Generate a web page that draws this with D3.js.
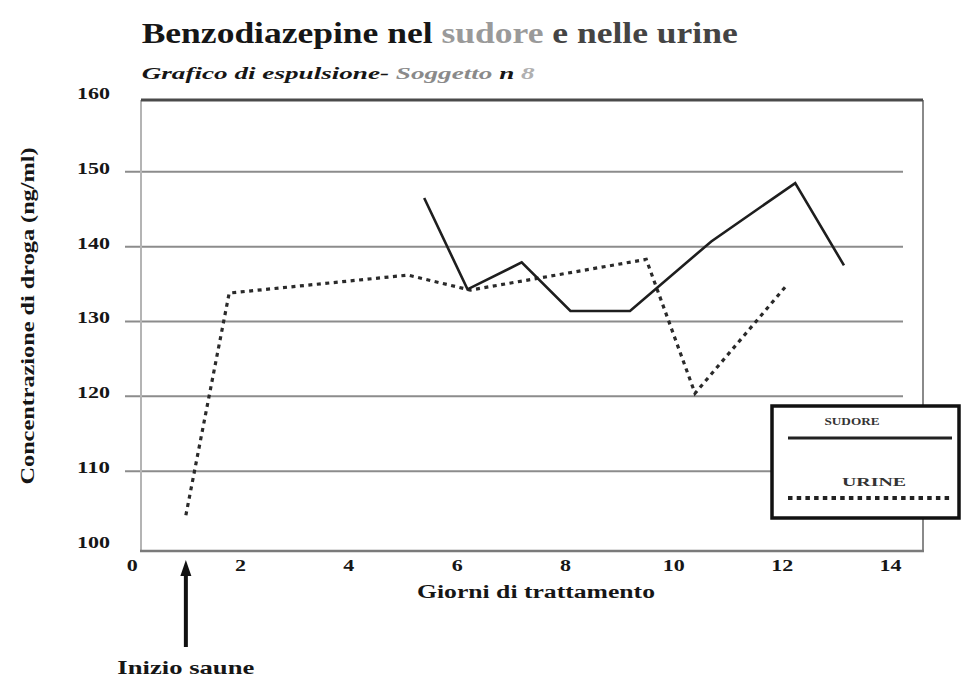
<!DOCTYPE html>
<html lang="it">

<head>
	<meta charset="UTF-8">
	<title>Benzodiazepine nel sudore e nelle urine</title>
	<style>
		body { margin: 0; background: #fff; }
		text { font-family: "Liberation Serif", "Times New Roman", serif; font-weight: bold; fill: #161616; }
	</style>
</head>

<body>

	<script src="https://d3js.org/d3.v7.min.js"></script>

	<script>

		// values
		var sudoreDays   = [5.4, 6.2, 7.2, 8.1, 9.2, 10.7, 12.25, 13.15],
		    sudoreValues = [146.5, 134.3, 137.9, 131.4, 131.4, 140.7, 148.5, 137.5];

		var urineDays   = [1.0, 1.8, 5.1, 6.25, 9.5, 10.4, 12.1],
		    urineValues = [104.1, 133.8, 136.2, 134.2, 138.3, 120.4, 134.9];

		var xTicks = [0, 2, 4, 6, 8, 10, 12, 14],
		    yTicks = [100, 110, 120, 130, 140, 150, 160],
		    gridValues = [110, 120, 130, 140, 150];

		var saunaDay = 1;

		var width = 961,
		    height = 677,
		    frameLeft = 141,
		    frameRight = 923,
		    frameBottom = 551;

		var svg = d3.select("body").append("svg")
		            .attr("width", width)
		            .attr("height", height);

		var x = d3.scaleLinear().domain([0, 14]).range([131.7, 890]),
		    y = d3.scaleLinear().domain([100, 160]).range([546, 97]),
		    frameTop = y(160) + 3;

		// stretch text horizontally like the scan
		function fit(sel, w) {
			sel.attr("textLength", w).attr("lengthAdjust", "spacingAndGlyphs");
		}

		// title
		var title = svg.append("text")
		    .attr("x", 141.7)
		    .attr("y", 43)
		    .style("font-size", "29px");
		title.append("tspan").text("Benzodiazepine nel ");
		title.append("tspan").style("fill", "#9a9a9a").text("sudore");
		title.append("tspan").style("fill", "#444").text(" e nelle urine");
		fit(title, 596);

		var sub = svg.append("text")
		    .attr("x", 141.7)
		    .attr("y", 79)
		    .style("font-size", "17px")
		    .style("font-style", "italic");
		sub.append("tspan").text("Grafico di espulsione- ");
		sub.append("tspan").style("fill", "#8a8a8a").text("Soggetto");
		sub.append("tspan").text(" n  ");
		sub.append("tspan").style("fill", "#b0b0b0").text("8");
		fit(sub, 393);

		// grid
		svg.append("g")
		    .selectAll("line")
		    .data(gridValues)
		    .join("line")
		    .attr("x1", 125)
		    .attr("x2", 903)
		    .attr("y1", function (d) { return y(d); })
		    .attr("y2", function (d) { return y(d); })
		    .attr("stroke", "#8c8c8c")
		    .attr("stroke-width", 2);

		// frame
		svg.append("line")
		    .attr("x1", frameLeft).attr("x2", frameLeft)
		    .attr("y1", frameTop).attr("y2", frameBottom)
		    .attr("stroke", "#b4b4b4").attr("stroke-width", 2);
		svg.append("line")
		    .attr("x1", frameRight).attr("x2", frameRight)
		    .attr("y1", frameTop).attr("y2", frameBottom)
		    .attr("stroke", "#8a8a8a").attr("stroke-width", 2);
		svg.append("line")
		    .attr("x1", frameLeft).attr("x2", frameRight)
		    .attr("y1", frameTop).attr("y2", frameTop)
		    .attr("stroke", "#4a4a4a").attr("stroke-width", 3);
		svg.append("line")
		    .attr("x1", frameLeft - 1).attr("x2", frameRight + 1)
		    .attr("y1", frameBottom).attr("y2", frameBottom)
		    .attr("stroke", "#7a7a7a").attr("stroke-width", 2.5);

		// axes labels only
		var xAxis = svg.append("g")
		    .attr("transform", "translate(0," + frameBottom + ")")
		    .call(d3.axisBottom(x).tickValues(xTicks).tickSize(0).tickPadding(8));
		xAxis.select(".domain").remove();
		xAxis.attr("font-family", null).attr("font-size", null);
		xAxis.selectAll("text")
		    .style("font-size", "17px")
		    .each(function (d) { fit(d3.select(this), String(d).length * 11); });

		var yAxis = svg.append("g")
		    .attr("transform", "translate(110,0)")
		    .call(d3.axisLeft(y).tickValues(yTicks).tickSize(0).tickPadding(0));
		yAxis.select(".domain").remove();
		yAxis.attr("font-family", null).attr("font-size", null);
		yAxis.selectAll("text")
		    .attr("y", -4)
		    .style("font-size", "17px")
		    .each(function (d) { fit(d3.select(this), String(d).length * 11); });

		var xTitle = svg.append("text")
		    .attr("x", 536)
		    .attr("y", 598)
		    .attr("text-anchor", "middle")
		    .style("font-size", "18px")
		    .text("Giorni di trattamento");
		fit(xTitle, 238);

		var yTitle = svg.append("text")
		    .attr("transform", "translate(34,316) rotate(-90)")
		    .attr("text-anchor", "middle")
		    .style("font-size", "18px")
		    .text("Concentrazione di droga (ng/ml)");
		fit(yTitle, 337);

		// series
		var line = d3.line()
		    .x(function (d) { return x(d[0]); })
		    .y(function (d) { return y(d[1]); });

		svg.append("path")
		    .datum(d3.zip(urineDays, urineValues))
		    .attr("d", line)
		    .attr("fill", "none")
		    .attr("stroke", "#2a2a2a")
		    .attr("stroke-width", 3.2)
		    .attr("stroke-dasharray", "4,4.5");

		svg.append("path")
		    .datum(d3.zip(sudoreDays, sudoreValues))
		    .attr("d", line)
		    .attr("fill", "none")
		    .attr("stroke", "#1e1e1e")
		    .attr("stroke-width", 2.6)
		    .attr("stroke-linejoin", "miter");

		// start of sauna arrow
		var ax = x(saunaDay);
		svg.append("line")
		    .attr("x1", ax).attr("x2", ax)
		    .attr("y1", 647).attr("y2", 572)
		    .attr("stroke", "#111").attr("stroke-width", 4);
		svg.append("path")
		    .attr("d", "M" + ax + ",560L" + (ax - 5.5) + ",576L" + (ax + 5.5) + ",576Z")
		    .attr("fill", "#111");
		var sauna = svg.append("text")
		    .attr("x", ax)
		    .attr("y", 674)
		    .attr("text-anchor", "middle")
		    .style("font-size", "19px")
		    .text("Inizio saune");
		fit(sauna, 137);

		// legend
		var legend = svg.append("g");
		legend.append("rect")
		    .attr("x", 772).attr("y", 406)
		    .attr("width", 187).attr("height", 112)
		    .attr("fill", "#fff")
		    .attr("stroke", "#111")
		    .attr("stroke-width", 3.5);
		var l1 = legend.append("text")
		    .attr("x", 852).attr("y", 425)
		    .attr("text-anchor", "middle")
		    .style("font-size", "10px")
		    .style("fill", "#333")
		    .text("SUDORE");
		fit(l1, 55);
		legend.append("line")
		    .attr("x1", 788).attr("x2", 952)
		    .attr("y1", 438).attr("y2", 438)
		    .attr("stroke", "#222").attr("stroke-width", 3);
		var l2 = legend.append("text")
		    .attr("x", 874).attr("y", 486)
		    .attr("text-anchor", "middle")
		    .style("font-size", "12px")
		    .style("fill", "#333")
		    .text("URINE");
		fit(l2, 64);
		legend.append("line")
		    .attr("x1", 788).attr("x2", 952)
		    .attr("y1", 498).attr("y2", 498)
		    .attr("stroke", "#222").attr("stroke-width", 4)
		    .attr("stroke-dasharray", "4.5,4.2");

	</script>

</body>

</html>
